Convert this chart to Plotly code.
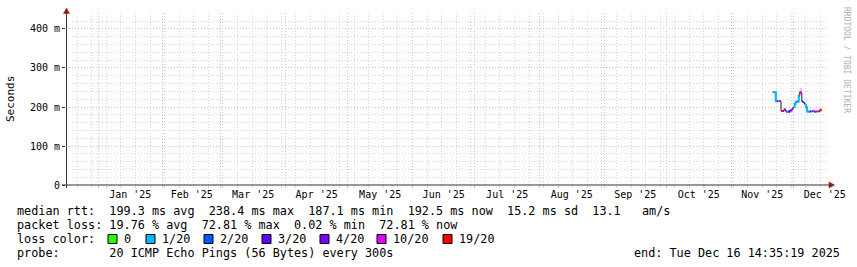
import plotly.graph_objects as go
from datetime import datetime, timedelta

# ---------------- data ----------------
range_start = datetime(2024, 12, 16, 14, 35, 19)
range_end = datetime(2025, 12, 16, 14, 35, 19)
y_max = 0.441

step_start = datetime(2025, 11, 21, 0, 0)
step_hours = 12

median_rtt = [0.238, 0.238, 0.238, 0.215, 0.215, 0.215, 0.215, 0.215, 0.190, 0.190,
              0.190, 0.195, 0.191, 0.188, 0.187, 0.188, 0.189, 0.191, 0.193, 0.197,
              0.200, 0.207, 0.212, 0.214, 0.214, 0.228, 0.238, 0.236, 0.214, 0.213,
              0.210, 0.205, 0.200, 0.189, 0.188, 0.188, 0.189, 0.188, 0.189, 0.190,
              0.188, 0.188, 0.189, 0.188, 0.189, 0.191, 0.193]
loss_bin = [1, 1, 1, 1, 2, 1, 5, 5, 6, 6,
            4, 5, 3, 2, 1, 3, 3, 4, 4, 5,
            1, 1, 1, 2, 1, 1, 5, 5, 3, 2,
            3, 1, 1, 1, 1, 2, 4, 1, 4, 5,
            2, 4, 5, 1, 4, 6, 6]
smoke_lo = [0.236, 0.236, 0.236, 0.213, 0.213, 0.213, 0.213, 0.213, 0.189, 0.189,
            0.189, 0.193, 0.190, 0.187, 0.186, 0.187, 0.188, 0.190, 0.192, 0.195,
            0.198, 0.205, 0.210, 0.212, 0.212, 0.225, 0.236, 0.234, 0.212, 0.211,
            0.208, 0.203, 0.198, 0.188, 0.187, 0.187, 0.188, 0.187, 0.188, 0.189,
            0.187, 0.187, 0.188, 0.187, 0.188, 0.190, 0.192]
smoke_hi = [0.241, 0.241, 0.241, 0.218, 0.218, 0.218, 0.218, 0.218, 0.192, 0.192,
            0.192, 0.198, 0.193, 0.190, 0.189, 0.190, 0.191, 0.193, 0.195, 0.200,
            0.203, 0.210, 0.215, 0.217, 0.217, 0.240, 0.250, 0.248, 0.217, 0.216,
            0.213, 0.208, 0.203, 0.191, 0.190, 0.190, 0.191, 0.190, 0.191, 0.192,
            0.190, 0.190, 0.191, 0.190, 0.191, 0.194, 0.196]

loss_colors = ["#26ff00", "#00b8ff", "#0059ff", "#5e00ff", "#7e00ff", "#dd00ff", "#ff0000"]
loss_labels = ["0", "1/20", "2/20", "3/20", "4/20", "10/20", "19/20"]

y_tickvals = [0, 0.1, 0.2, 0.3, 0.4]
y_ticktext = ["0", "100 m", "200 m", "300 m", "400 m"]

stats_lines = [
    "median rtt:  199.3 ms avg  238.4 ms max  187.1 ms min  192.5 ms now  15.2 ms sd  13.1   am/s",
    "packet loss: 19.76 % avg  72.81 % max  0.02 % min  72.81 % now",
]
loss_caption = "loss color:"
probe_line = "probe:       20 ICMP Echo Pings (56 Bytes) every 300s"
end_line = "end: Tue Dec 16 14:35:19 2025"
y_title = "Seconds"
watermark = "RRDTOOL / TOBI OETIKER"

# ---------------- layout constants ----------------
W, H = 857, 267
L, R, T, B = 66, 31, 13, 82
PW, PH = W - L - R, H - T - B
MONO = "DejaVu Sans Mono"


def fx(px):
    return (px - L) / PW


def fy(py):
    return (H - B - py) / PH


def nb(s):
    return s.replace(" ", "\u00a0")


n = len(median_rtt)
times = [step_start + timedelta(hours=step_hours * i) for i in range(n + 1)]

fig = go.Figure()

# smoke
fig.add_trace(go.Scatter(x=times, y=smoke_lo + [smoke_lo[-1]], mode="lines",
                         line=dict(width=0, shape="hv"), showlegend=False, hoverinfo="skip"))
fig.add_trace(go.Scatter(x=times, y=smoke_hi + [smoke_hi[-1]], mode="lines",
                         line=dict(width=0, shape="hv"), fill="tonexty",
                         fillcolor="#cfcfcf", showlegend=False, hoverinfo="skip"))

# median black step line
fig.add_trace(go.Scatter(x=times, y=median_rtt + [median_rtt[-1]], mode="lines",
                         line=dict(color="#202020", width=1, shape="hv"),
                         showlegend=False, hoverinfo="skip"))

# loss-coloured segments
for c, col in enumerate(loss_colors):
    xs, ys = [], []
    i = 0
    while i < n:
        if loss_bin[i] == c:
            j = i
            while j + 1 < n and loss_bin[j + 1] == c:
                j += 1
            for k in range(i, j + 1):
                xs.append(times[k]); ys.append(median_rtt[k])
            xs.append(times[j + 1]); ys.append(median_rtt[j])
            xs.append(None); ys.append(None)
            i = j + 1
        else:
            i += 1
    if xs:
        fig.add_trace(go.Scatter(x=xs, y=ys, mode="lines",
                                 line=dict(color=col, width=2, shape="hv"),
                                 showlegend=False, hoverinfo="skip"))

grid_minor = "#d6d6d6"
grid_major = "#f0b4b4"
axis_col = "#333333"
arrow_col = "#8e1b1b"
DASH = "1px,2px"

fig.update_xaxes(
    type="date", range=[range_start, range_end],
    dtick="M1", tick0="2025-01-01", ticklabelmode="period", tickformat="%b '%y",
    showgrid=True, gridcolor=grid_major, griddash=DASH, gridwidth=1,
    ticks="outside", ticklen=2, tickcolor=grid_major, ticklabelstandoff=-2,
    tickfont=dict(family=MONO, size=10, color="#000"),
    minor=dict(dtick=7 * 86400000, tick0="2024-12-22", showgrid=True,
               gridcolor=grid_minor, griddash=DASH, ticks="outside",
               ticklen=2, tickcolor=grid_minor),
    showline=False, zeroline=False, fixedrange=True,
)
fig.update_yaxes(
    range=[0, y_max], tickvals=y_tickvals, ticktext=y_ticktext,
    showgrid=True, gridcolor=grid_major, griddash=DASH,
    ticks="outside", ticklen=3, tickcolor=axis_col,
    tickfont=dict(family=MONO, size=10, color="#000"),
    minor=dict(dtick=0.02, showgrid=True, gridcolor=grid_minor, griddash=DASH),
    showline=False, zeroline=False, fixedrange=True,
)

shapes = []
# axes lines
shapes.append(dict(type="line", xref="paper", yref="paper", x0=fx(62), x1=fx(830),
                   y0=fy(185), y1=fy(185), line=dict(color=axis_col, width=1), layer="above"))
shapes.append(dict(type="line", xref="paper", yref="paper", x0=fx(66.5), x1=fx(66.5),
                   y0=fy(188), y1=fy(11), line=dict(color=axis_col, width=1), layer="above"))
# arrows
shapes.append(dict(type="path", xref="paper", yref="paper",
                   path=f"M {fx(63.5)} {fy(13.5)} L {fx(69.5)} {fy(13.5)} L {fx(66.5)} {fy(8)} Z",
                   fillcolor=arrow_col, line=dict(color=arrow_col, width=0.5), layer="above"))
shapes.append(dict(type="path", xref="paper", yref="paper",
                   path=f"M {fx(829)} {fy(182)} L {fx(829)} {fy(188)} L {fx(834.5)} {fy(185)} Z",
                   fillcolor=arrow_col, line=dict(color=arrow_col, width=0.5), layer="above"))

annotations = []
LEG_FS = 11.8
line_y = [211.0, 225.0, 239.0, 253.0]


def add_text(text, px, py, anchor="left", size=LEG_FS, color="#000", angle=0, yanchor="middle"):
    annotations.append(dict(text=nb(text), x=fx(px), y=fy(py), xref="paper", yref="paper",
                            xanchor=anchor, yanchor=yanchor, showarrow=False, borderpad=0,
                            textangle=angle,
                            font=dict(family=MONO, size=size, color=color)))


add_text(stats_lines[0], 16, line_y[0])
add_text(stats_lines[1], 16, line_y[1])
add_text(loss_caption, 16, line_y[2])
add_text(probe_line, 16, line_y[3])
add_text(end_line, 841, line_y[3], anchor="right")

sq_left = [108, 146, 204, 262, 320, 377, 443]
for k, (col, lab) in enumerate(zip(loss_colors, loss_labels)):
    x0 = sq_left[k]
    shapes.append(dict(type="rect", xref="paper", yref="paper",
                       x0=fx(x0), x1=fx(x0 + 9), y0=fy(line_y[2] - 4.5), y1=fy(line_y[2] + 4.5),
                       fillcolor=col, line=dict(color="#000", width=1), layer="above"))
    add_text(lab, x0 + 15, line_y[2])

# y title
add_text(y_title, 10, 99, anchor="center", size=11, angle=-90)
# watermark
add_text(watermark, 847, 60, anchor="center", size=8, color="#b0b0b0", angle=90)

fig.update_layout(
    width=W, height=H, margin=dict(l=L, r=R, t=T, b=B, pad=0),
    paper_bgcolor="#ffffff", plot_bgcolor="#ffffff",
    shapes=shapes, annotations=annotations, showlegend=False,
    font=dict(family=MONO, size=10, color="#000"),
)

fig.write_html("out.html", config={"displayModeBar": False})
